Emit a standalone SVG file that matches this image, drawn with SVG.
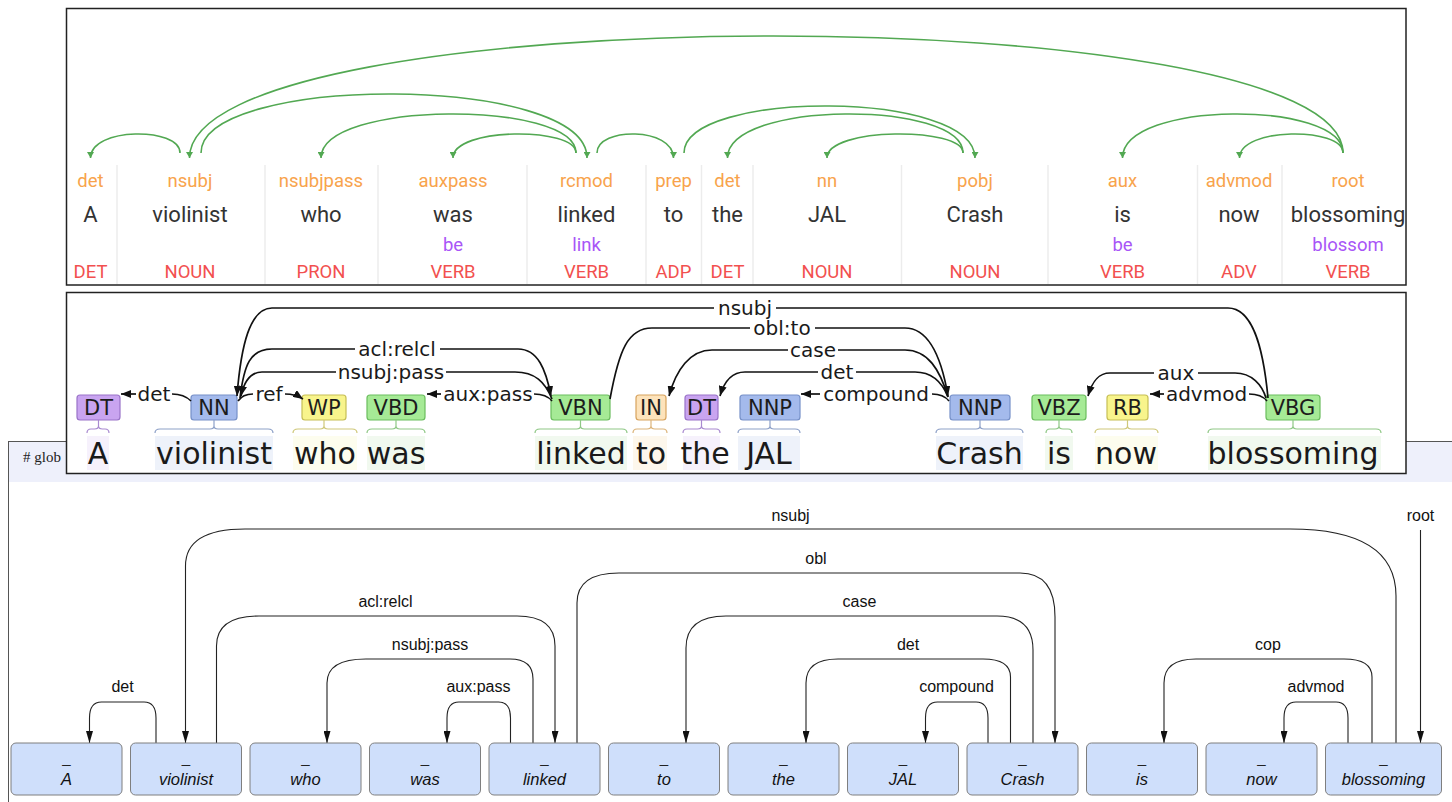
<svg xmlns="http://www.w3.org/2000/svg" width="1452" height="802" viewBox="0 0 1452 802">
  <style>
    /* top panel: dependency view with lemma and POS rows */
    .dep { font-family: Roboto, "Liberation Sans", sans-serif; font-size: 18.5px; fill: #f8a34c; text-anchor: middle; }
    .wt { font-family: Roboto, "Liberation Sans", sans-serif; font-size: 22px; fill: #333; text-anchor: middle; }
    .lem { font-family: Roboto, "Liberation Sans", sans-serif; font-size: 18.5px; fill: #a855f7; text-anchor: middle; }
    .pos { font-family: Roboto, "Liberation Sans", sans-serif; font-size: 18.5px; fill: #f2504f; text-anchor: middle; }
    .sep { stroke: #ececec; stroke-width: 1.5; }
    .garc { fill: none; stroke: #52a852; stroke-width: 1.6; marker-end: url(#mt); }

    /* middle panel: tag boxes, braces and arc labels */
    .tag { stroke-width: 1.2; }
    .tagt { font-family: "DejaVu Sans", sans-serif; font-size: 21px; fill: #1c1c1c; text-anchor: middle; }
    .word { font-family: "DejaVu Sans", sans-serif; font-size: 30px; fill: #1a1a1a; text-anchor: middle; }
    .lab { font-family: "DejaVu Sans", sans-serif; font-size: 20px; fill: #1a1a1a; text-anchor: middle; }
    .brace { fill: none; stroke-width: 1.2; }
    .marc { fill: none; stroke: #111; stroke-width: 1.7; }
    .marr { marker-end: url(#mm); }
    .dt { fill: #c9a4f0; stroke: #9a73c8; }
    .nn { fill: #a4baec; stroke: #7690c8; }
    .wp { fill: #f8f48c; stroke: #c6be55; }
    .vb { fill: #a6ea96; stroke: #6bbd5e; }
    .in { fill: #fde3bb; stroke: #d7a35e; }
    .hdt { fill: #f6f1fc; } .hnn { fill: #eef2fa; } .hwp { fill: #fdfdee; } .hvb { fill: #f1f9ef; } .hin { fill: #fdf7ec; }

    /* bottom panel: token boxes and rectilinear arcs */
    .box { fill: #cfdffb; stroke: #7f7f7f; stroke-width: 1; }
    .us { font-family: "Liberation Sans", Arial, sans-serif; font-size: 15px; fill: #222; text-anchor: middle; }
    .bw { font-family: "Liberation Sans", Arial, sans-serif; font-size: 16.5px; font-style: italic; fill: #111; text-anchor: middle; }
    .bl { font-family: "Liberation Sans", Arial, sans-serif; font-size: 16px; fill: #111; text-anchor: middle; }
    .barc { fill: none; stroke: #222; stroke-width: 1.1; marker-end: url(#mb); }
  </style>
  <defs>
    <marker id="mt" viewBox="0 0 6 7" refX="6" refY="3.5" markerWidth="6" markerHeight="7" markerUnits="userSpaceOnUse" orient="auto">
      <path d="M0,0 L6,3.5 L0,7 z" fill="#52a852"/>
    </marker>
    <marker id="mm" viewBox="0 0 10 8" refX="10" refY="4" markerWidth="10" markerHeight="8" markerUnits="userSpaceOnUse" orient="auto">
      <path d="M0,0 L10,4 L0,8 z" fill="#111"/>
    </marker>
    <marker id="mb" viewBox="0 0 12 7" refX="12" refY="3.5" markerWidth="12" markerHeight="7" markerUnits="userSpaceOnUse" orient="auto">
      <path d="M0,0 L12,3.5 L0,7 z" fill="#111"/>
    </marker>
  </defs>

  <rect x="0" y="0" width="1452" height="802" fill="#fff"/>

  <!-- ===== bottom panel (drawn first, partly covered) ===== -->
  <g id="panel-tree">
    <rect x="8.5" y="441.5" width="1460" height="380" fill="#fff" stroke="#555" stroke-width="1"/>
    <rect x="9" y="442" width="1452" height="40" fill="#eef0fb"/>
    <text x="23" y="462" font-family="'Liberation Serif', serif" font-size="15" fill="#222">&#35; glob</text>

    <g id="tree-arcs">
      <path class="barc" d="M156,743 V718 Q156,702 144,702 H101.5 Q89.5,702 89.5,718 V743"/>
      <path class="barc" d="M1396,743 V596 C1396,545 1350,529 1290,529 H245 Q185.5,529 185.5,566 V743"/>
      <path class="barc" d="M216.5,743 V646 Q216.5,616 259,616 H517 Q555,616 555,646 V743"/>
      <path class="barc" d="M533,743 V679 Q533,659 510,659 H366 Q327,659 327,683 V743"/>
      <path class="barc" d="M510.5,743 V718 Q510.5,702 498.5,702 H459 Q447,702 447,718 V743"/>
      <path class="barc" d="M577,743 V603 Q577,573 619,573 H1020 Q1055,573 1055,617 V743"/>
      <path class="barc" d="M1033,743 V650 Q1033,616 997,616 H726 Q686,616 686,648 V743"/>
      <path class="barc" d="M1010.5,743 V677 Q1010.5,659 983,659 H838 Q806,659 806,683 V743"/>
      <path class="barc" d="M988,743 V718 Q988,702 976,702 H937.5 Q925.5,702 925.5,718 V743"/>
      <path class="barc" d="M1372,743 V677 Q1372,659 1344,659 H1196 Q1164,659 1164,683 V743"/>
      <path class="barc" d="M1348,743 V718 Q1348,702 1336,702 H1296 Q1284,702 1284,718 V743"/>
      <path class="barc" d="M1420.5,530 V743"/>
      <text class="bl" x="790.5" y="521">nsubj</text>
      <text class="bl" x="1420.5" y="521">root</text>
      <text class="bl" x="816" y="564">obl</text>
      <text class="bl" x="385.5" y="607">acl:relcl</text>
      <text class="bl" x="859.5" y="607">case</text>
      <text class="bl" x="430" y="650">nsubj:pass</text>
      <text class="bl" x="908" y="650">det</text>
      <text class="bl" x="1268" y="650">cop</text>
      <text class="bl" x="122.5" y="692">det</text>
      <text class="bl" x="478.5" y="692">aux:pass</text>
      <text class="bl" x="956.5" y="692">compound</text>
      <text class="bl" x="1316" y="692">advmod</text>
    </g>

    <g id="t-A"><rect class="box" x="11" y="743" width="111" height="52" rx="5"/><text class="us" x="66.5" y="763">_</text><text class="bw" x="66.5" y="785">A</text></g>
    <g id="t-violinist"><rect class="box" x="130.5" y="743" width="111" height="52" rx="5"/><text class="us" x="186" y="763">_</text><text class="bw" x="186" y="785">violinist</text></g>
    <g id="t-who"><rect class="box" x="250" y="743" width="111" height="52" rx="5"/><text class="us" x="305.5" y="763">_</text><text class="bw" x="305.5" y="785">who</text></g>
    <g id="t-was"><rect class="box" x="369.5" y="743" width="111" height="52" rx="5"/><text class="us" x="425" y="763">_</text><text class="bw" x="425" y="785">was</text></g>
    <g id="t-linked"><rect class="box" x="489" y="743" width="111" height="52" rx="5"/><text class="us" x="544.5" y="763">_</text><text class="bw" x="544.5" y="785">linked</text></g>
    <g id="t-to"><rect class="box" x="608.5" y="743" width="111" height="52" rx="5"/><text class="us" x="664" y="763">_</text><text class="bw" x="664" y="785">to</text></g>
    <g id="t-the"><rect class="box" x="728" y="743" width="111" height="52" rx="5"/><text class="us" x="783.5" y="763">_</text><text class="bw" x="783.5" y="785">the</text></g>
    <g id="t-JAL"><rect class="box" x="847.5" y="743" width="111" height="52" rx="5"/><text class="us" x="903" y="763">_</text><text class="bw" x="903" y="785">JAL</text></g>
    <g id="t-Crash"><rect class="box" x="967" y="743" width="111" height="52" rx="5"/><text class="us" x="1022.5" y="763">_</text><text class="bw" x="1022.5" y="785">Crash</text></g>
    <g id="t-is"><rect class="box" x="1086.5" y="743" width="111" height="52" rx="5"/><text class="us" x="1142" y="763">_</text><text class="bw" x="1142" y="785">is</text></g>
    <g id="t-now"><rect class="box" x="1206" y="743" width="111" height="52" rx="5"/><text class="us" x="1261.5" y="763">_</text><text class="bw" x="1261.5" y="785">now</text></g>
    <g id="t-blossoming"><rect class="box" x="1325.5" y="743" width="116" height="52" rx="5"/><text class="us" x="1383.5" y="763">_</text><text class="bw" x="1383.5" y="785">blossoming</text></g>
  </g>

  <!-- ===== middle panel ===== -->
  <g id="panel-tags">
    <rect x="66.5" y="292.5" width="1339.5" height="181" fill="#fff" stroke="#222" stroke-width="1.5"/>

    <g id="m-A">
      <rect class="hdt" x="87" y="436" width="22" height="34"/>
      <rect class="tag dt" x="77" y="395" width="43" height="25" rx="3"/><text class="tagt" x="98.5" y="415">DT</text>
      <path class="brace" stroke="#a98ad0" d="M98.5,420 V426 M87,433 Q87,429 91,429 H94.5 Q98.5,429 98.5,426 Q98.5,429 102.5,429 H105 Q109,429 109,433"/>
      <text class="word" x="98" y="464">A</text>
    </g>
    <g id="m-violinist">
      <rect class="hnn" x="155" y="436" width="118" height="34"/>
      <rect class="tag nn" x="191" y="395" width="46" height="25" rx="3"/><text class="tagt" x="214" y="415">NN</text>
      <path class="brace" stroke="#8ea1c8" d="M214,420 V426 M155,433 Q155,429 160,429 H210 Q214,429 214,426 Q214,429 218,429 H268 Q273,429 273,433"/>
      <text class="word" x="214" y="464">violinist</text>
    </g>
    <g id="m-who">
      <rect class="hwp" x="293" y="436" width="64" height="34"/>
      <rect class="tag wp" x="302" y="395" width="44" height="25" rx="3"/><text class="tagt" x="324" y="415">WP</text>
      <path class="brace" stroke="#cfc87a" d="M324,420 V426 M293,433 Q293,429 298,429 H320 Q324,429 324,426 Q324,429 328,429 H352 Q357,429 357,433"/>
      <text class="word" x="325" y="464">who</text>
    </g>
    <g id="m-was">
      <rect class="hvb" x="367" y="436" width="58" height="34"/>
      <rect class="tag vb" x="367" y="395" width="58" height="25" rx="3"/><text class="tagt" x="396" y="415">VBD</text>
      <path class="brace" stroke="#8fc886" d="M396,420 V426 M367,433 Q367,429 372,429 H392 Q396,429 396,426 Q396,429 400,429 H420 Q425,429 425,433"/>
      <text class="word" x="396" y="464">was</text>
    </g>
    <g id="m-linked">
      <rect class="hvb" x="535" y="436" width="92" height="34"/>
      <rect class="tag vb" x="551" y="395" width="59" height="25" rx="3"/><text class="tagt" x="580.5" y="415">VBN</text>
      <path class="brace" stroke="#8fc886" d="M580.5,420 V426 M535,433 Q535,429 540,429 H576.5 Q580.5,429 580.5,426 Q580.5,429 584.5,429 H622 Q627,429 627,433"/>
      <text class="word" x="581" y="464">linked</text>
    </g>
    <g id="m-to">
      <rect class="hin" x="633" y="436" width="34" height="34"/>
      <rect class="tag in" x="636" y="395" width="30" height="25" rx="3"/><text class="tagt" x="651" y="415">IN</text>
      <path class="brace" stroke="#dcb47a" d="M651,420 V426 M633,433 Q633,429 637,429 H647 Q651,429 651,426 Q651,429 655,429 H663 Q667,429 667,433"/>
      <text class="word" x="651" y="464">to</text>
    </g>
    <g id="m-the">
      <rect class="hdt" x="683" y="436" width="37" height="34"/>
      <rect class="tag dt" x="685" y="395" width="33" height="25" rx="3"/><text class="tagt" x="701.5" y="415">DT</text>
      <path class="brace" stroke="#a98ad0" d="M701.5,420 V426 M683,433 Q683,429 687,429 H697.5 Q701.5,429 701.5,426 Q701.5,429 705.5,429 H716 Q720,429 720,433"/>
      <text class="word" x="705" y="464">the</text>
    </g>
    <g id="m-JAL">
      <rect class="hnn" x="738" y="436" width="62" height="34"/>
      <rect class="tag nn" x="740" y="395" width="60" height="25" rx="3"/><text class="tagt" x="770" y="415">NNP</text>
      <path class="brace" stroke="#8ea1c8" d="M770,420 V426 M738,433 Q738,429 743,429 H766 Q770,429 770,426 Q770,429 774,429 H795 Q800,429 800,433"/>
      <text class="word" x="769" y="464">JAL</text>
    </g>
    <g id="m-Crash">
      <rect class="hnn" x="936" y="436" width="87" height="34"/>
      <rect class="tag nn" x="950" y="395" width="60" height="25" rx="3"/><text class="tagt" x="980" y="415">NNP</text>
      <path class="brace" stroke="#8ea1c8" d="M980,420 V426 M936,433 Q936,429 941,429 H976 Q980,429 980,426 Q980,429 984,429 H1018 Q1023,429 1023,433"/>
      <text class="word" x="979.5" y="464">Crash</text>
    </g>
    <g id="m-is">
      <rect class="hvb" x="1045" y="436" width="28" height="34"/>
      <rect class="tag vb" x="1032" y="395" width="54" height="25" rx="3"/><text class="tagt" x="1059" y="415">VBZ</text>
      <path class="brace" stroke="#8fc886" d="M1059,420 V426 M1046,433 Q1046,429 1050,429 H1055 Q1059,429 1059,426 Q1059,429 1063,429 H1068 Q1072,429 1072,433"/>
      <text class="word" x="1059" y="464">is</text>
    </g>
    <g id="m-now">
      <rect class="hwp" x="1095" y="436" width="63" height="34"/>
      <rect class="tag wp" x="1107" y="395" width="41" height="25" rx="3"/><text class="tagt" x="1127.5" y="415">RB</text>
      <path class="brace" stroke="#cfc87a" d="M1127.5,420 V426 M1095,433 Q1095,429 1100,429 H1123.5 Q1127.5,429 1127.5,426 Q1127.5,429 1131.5,429 H1153 Q1158,429 1158,433"/>
      <text class="word" x="1126" y="464">now</text>
    </g>
    <g id="m-blossoming">
      <rect class="hvb" x="1208" y="436" width="173" height="34"/>
      <rect class="tag vb" x="1266" y="395" width="54" height="25" rx="3"/><text class="tagt" x="1293" y="415">VBG</text>
      <path class="brace" stroke="#8fc886" d="M1293,420 V426 M1208,433 Q1208,429 1213,429 H1289 Q1293,429 1293,426 Q1293,429 1297,429 H1376 Q1381,429 1381,433"/>
      <text class="word" x="1293" y="464">blossoming</text>
    </g>

    <g id="tag-arcs">
      <!-- nsubj -->
      <path class="marc" d="M1268,398 C1263,345 1252,308 1228,308 H776"/>
      <path class="marc marr" d="M714,308 H272 C250,308 241,345 237,396"/>
      <text class="lab" x="745" y="315">nsubj</text>
      <!-- obl:to -->
      <path class="marc" d="M610,399 C619,350 628,328 652,328 H750"/>
      <path class="marc marr" d="M815,328 H905 C928,328 941,355 948,396"/>
      <text class="lab" x="782" y="335">obl:to</text>
      <!-- acl:relcl -->
      <path class="marc" d="M240,398 C244,365 250,349 272,349 H355"/>
      <path class="marc marr" d="M440,349 H518 C538,349 546,370 551,396"/>
      <text class="lab" x="397" y="356">acl:relcl</text>
      <!-- nsubj:pass -->
      <path class="marc" d="M552,399 C545,382 535,372 515,372 H446"/>
      <path class="marc marr" d="M336,372 H262 C250,372 244,382 241,396"/>
      <text class="lab" x="391" y="379">nsubj:pass</text>
      <!-- case -->
      <path class="marc marr" d="M788,350 H712 C690,350 676,370 669,396"/>
      <path class="marc" d="M838,350 H905 C928,350 940,370 948,397"/>
      <text class="lab" x="813" y="357">case</text>
      <!-- det (the) -->
      <path class="marc marr" d="M818,372 H745 C732,372 724,382 720,396"/>
      <path class="marc" d="M856,372 H915 C932,372 942,382 948,397"/>
      <text class="lab" x="837" y="379">det</text>
      <!-- compound -->
      <path class="marc marr" d="M820,394 H801"/>
      <path class="marc" d="M932,394 C940,394 945,396 949,401"/>
      <text class="lab" x="876" y="401">compound</text>
      <!-- aux -->
      <path class="marc marr" d="M1154,373 H1110 C1098,373 1092,382 1088,396"/>
      <path class="marc" d="M1198,373 H1235 C1252,373 1262,385 1266,398"/>
      <text class="lab" x="1176" y="380">aux</text>
      <!-- advmod -->
      <path class="marc marr" d="M1164,394 H1150"/>
      <path class="marc" d="M1249,394 C1257,394 1263,396 1267,401"/>
      <text class="lab" x="1206.5" y="401">advmod</text>
      <!-- det (A) -->
      <path class="marc marr" d="M136,394 H121"/>
      <path class="marc" d="M172,394 C180,394 186,396 191,401"/>
      <text class="lab" x="154" y="401">det</text>
      <!-- ref -->
      <path class="marc" d="M238,401 C242,395 247,394 253,394"/>
      <path class="marc marr" d="M285,394 C292,394 297,395 303,399"/>
      <text class="lab" x="269" y="401">ref</text>
      <!-- aux:pass -->
      <path class="marc marr" d="M441,394 H427"/>
      <path class="marc" d="M534,394 C542,394 548,396 552,401"/>
      <text class="lab" x="488" y="401">aux:pass</text>
    </g>
  </g>

  <!-- ===== top panel ===== -->
  <g id="panel-deps">
    <rect x="66.5" y="8.5" width="1339.5" height="276.5" fill="#fff" stroke="#222" stroke-width="1.5"/>
    <g id="columns">
      <line class="sep" x1="117" y1="165" x2="117" y2="284"/>
      <line class="sep" x1="265" y1="165" x2="265" y2="284"/>
      <line class="sep" x1="378" y1="165" x2="378" y2="284"/>
      <line class="sep" x1="527" y1="165" x2="527" y2="284"/>
      <line class="sep" x1="646" y1="165" x2="646" y2="284"/>
      <line class="sep" x1="701.5" y1="165" x2="701.5" y2="284"/>
      <line class="sep" x1="753" y1="165" x2="753" y2="284"/>
      <line class="sep" x1="901.5" y1="165" x2="901.5" y2="284"/>
      <line class="sep" x1="1048" y1="165" x2="1048" y2="284"/>
      <line class="sep" x1="1197.5" y1="165" x2="1197.5" y2="284"/>
      <line class="sep" x1="1282" y1="165" x2="1282" y2="284"/>
    </g>

    <g id="d-A"><text class="dep" x="90.5" y="186.5">det</text><text class="wt" x="90.5" y="221.5">A</text><text class="pos" x="90.5" y="278">DET</text></g>
    <g id="d-violinist"><text class="dep" x="190" y="186.5">nsubj</text><text class="wt" x="190" y="221.5">violinist</text><text class="pos" x="190" y="278">NOUN</text></g>
    <g id="d-who"><text class="dep" x="321" y="186.5">nsubjpass</text><text class="wt" x="321" y="221.5">who</text><text class="pos" x="321" y="278">PRON</text></g>
    <g id="d-was"><text class="dep" x="453" y="186.5">auxpass</text><text class="wt" x="453" y="221.5">was</text><text class="lem" x="453" y="250.5">be</text><text class="pos" x="453" y="278">VERB</text></g>
    <g id="d-linked"><text class="dep" x="586.5" y="186.5">rcmod</text><text class="wt" x="586.5" y="221.5">linked</text><text class="lem" x="586.5" y="250.5">link</text><text class="pos" x="586.5" y="278">VERB</text></g>
    <g id="d-to"><text class="dep" x="673.5" y="186.5">prep</text><text class="wt" x="673.5" y="221.5">to</text><text class="pos" x="673.5" y="278">ADP</text></g>
    <g id="d-the"><text class="dep" x="727.5" y="186.5">det</text><text class="wt" x="727.5" y="221.5">the</text><text class="pos" x="727.5" y="278">DET</text></g>
    <g id="d-JAL"><text class="dep" x="827" y="186.5">nn</text><text class="wt" x="827" y="221.5">JAL</text><text class="pos" x="827" y="278">NOUN</text></g>
    <g id="d-Crash"><text class="dep" x="975" y="186.5">pobj</text><text class="wt" x="975" y="221.5">Crash</text><text class="pos" x="975" y="278">NOUN</text></g>
    <g id="d-is"><text class="dep" x="1122.5" y="186.5">aux</text><text class="wt" x="1122.5" y="221.5">is</text><text class="lem" x="1122.5" y="250.5">be</text><text class="pos" x="1122.5" y="278">VERB</text></g>
    <g id="d-now"><text class="dep" x="1239" y="186.5">advmod</text><text class="wt" x="1239" y="221.5">now</text><text class="pos" x="1239" y="278">ADV</text></g>
    <g id="d-blossoming"><text class="dep" x="1348" y="186.5">root</text><text class="wt" x="1348" y="221.5">blossoming</text><text class="lem" x="1348" y="250.5">blossom</text><text class="pos" x="1348" y="278">VERB</text></g>

    <g id="dep-arcs">
      <path class="garc" d="M180,153 C180,126.8 90.5,126.8 90.5,158"/>
      <path class="garc" d="M1343,153 C1343,-3.9 189.5,-3.9 189.5,158"/>
      <path class="garc" d="M201,153 C201,73.5 587,73.5 587,158"/>
      <path class="garc" d="M576,153 C576,100.1 321,100.1 321,158"/>
      <path class="garc" d="M576,153 C576,126.8 453,126.8 453,158"/>
      <path class="garc" d="M597,153 C597,126.8 673.5,126.8 673.5,158"/>
      <path class="garc" d="M684,153 C684,89.5 975,89.5 975,158"/>
      <path class="garc" d="M963,153 C963,100.1 727.5,100.1 727.5,158"/>
      <path class="garc" d="M963,153 C963,126.8 827,126.8 827,158"/>
      <path class="garc" d="M1343,153 C1343,100.1 1122.5,100.1 1122.5,158"/>
      <path class="garc" d="M1343,153 C1343,126.8 1239.5,126.8 1239.5,158"/>
    </g>
  </g>
</svg>
